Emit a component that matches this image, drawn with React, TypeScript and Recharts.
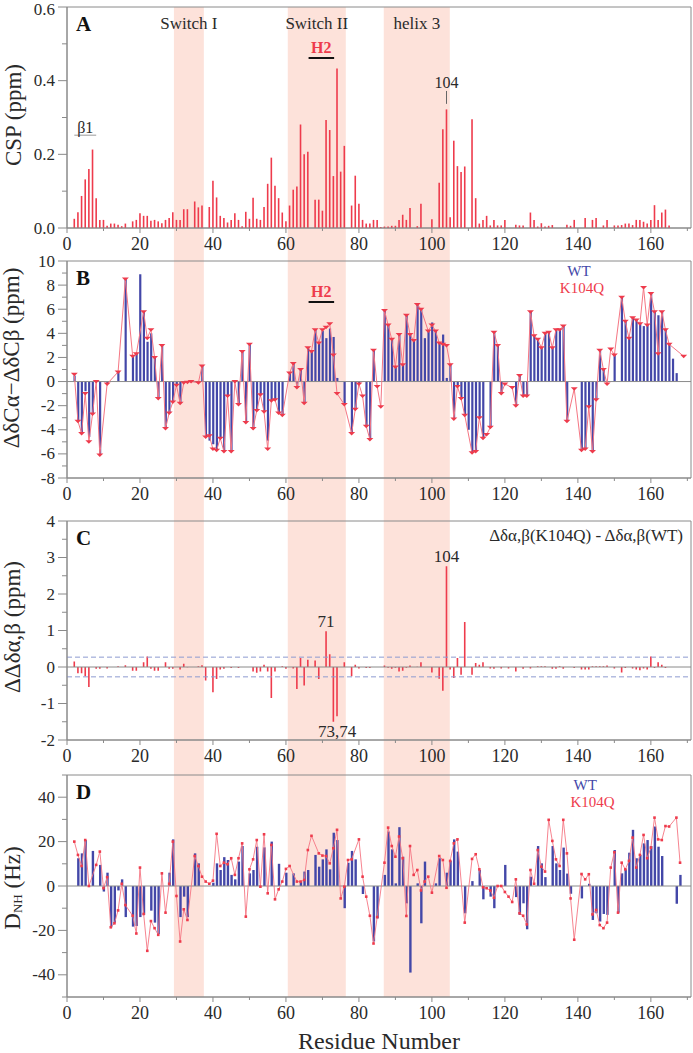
import React from "react";
import {
  ComposedChart,
  Bar,
  Line,
  XAxis,
  YAxis,
  ReferenceArea,
  ReferenceLine,
  ReferenceDot,
  Label,
} from "recharts";

// residue 1..170, null = no data
const cspValues = [
  null, 0.025, 0.043, 0.087, 0.132, 0.16, 0.213, 0.081, 0.022, 0.022,
  0.006, 0.012, 0.012, 0.009, 0.005, 0.012, null, 0.018, 0.022, 0.04,
  0.033, 0.033, 0.02, 0.022, 0.018, 0.013, 0.022, 0.027, 0.043, 0.022,
  0.022, 0.051, 0.051, null, 0.072, 0.056, 0.061, null, 0.057, 0.128,
  0.083, 0.033, 0.027, 0.015, 0.022, 0.04, 0.022, 0.005, 0.044, 0.025,
  0.082, 0.025, 0.022, 0.057, 0.12, 0.191, 0.115, 0.081, 0.042, 0.018,
  0.061, 0.104, 0.113, 0.281, 0.2, 0.207, null, 0.077, 0.077, 0.047,
  0.293, 0.266, 0.141, 0.433, 0.153, 0.223, null, 0.061, 0.142, 0.066,
  0.022, 0.012, 0.012, 0.022, 0.022, 0.003, 0.004, 0.004, 0.006, 0.006,
  0.022, 0.036, 0.022, 0.054, null, 0.005, 0.066, null, null, 0.024,
  null, 0.123, 0.268, 0.322, 0.029, 0.237, 0.168, 0.152, 0.167, null,
  0.295, 0.081, 0.012, 0.022, 0.033, 0.007, 0.022, 0.007, 0.007, 0.022,
  null, null, 0.009, 0.007, 0.007, null, 0.042, 0.022, 0.004, 0.013,
  0.004, 0.006, 0.008, null, null, null, 0.009, 0.006, 0.022, null,
  null, 0.027, null, 0.022, 0.027, null, 0.007, 0.022, null, 0.007,
  0.007, 0.008, 0.012, 0.012, 0.008, 0.022, 0.022, 0.017, 0.012, 0.022,
  0.062, 0.022, 0.042, 0.05, 0.007, null, null, null, null, null,
];

const wtShift = [
  null, 0.5, -3.3, -4.3, -0.8, -4.6, -2.7, null, -6.1, null,
  -0.2, null, null, 0.8, null, 8.5, null, 2.1, 2.3, 8.9,
  5.8, 3.3, 4.0, 2.0, -1.4, 3.0, -3.9, -2.6, -1.7, -0.3,
  -1.8, -0.1, null, null, null, -0.1, 1.3, -4.6, -4.9, -5.2,
  -5.7, -4.7, -5.8, -1.2, -5.8, null, -1.9, 2.5, -3.4, 3.1,
  -3.9, -2.4, -1.1, -2.5, -4.9, -1.6, -1.5, -2.6, -2.8, null,
  0.7, 1.5, -0.5, 1.0, -1.8, 2.8, 2.5, 4.3, 3.2, 4.2,
  3.6, 4.4, 3.7, 0.3, null, -1.9, null, -4.3, -2.3, -0.2,
  null, -3.7, -4.8, 2.6, null, null, 5.9, 4.7, 3.5, 1.2,
  3.9, 1.4, 5.5, 3.9, 3.4, 6.4, 6.0, 3.6, 4.2, 4.9,
  4.2, 3.2, 3.9, 0.3, 1.4, -3.1, -0.4, -1.4, -2.8, -4.0,
  -5.9, -5.8, -3.0, -4.7, null, -3.8, 4.1, 3.0, -1.0, null,
  null, null, -2.0, 0.5, -1.2, -1.2, 5.8, 3.8, 3.5, 2.8,
  4.0, 4.1, 2.8, 4.3, 4.3, 4.6, -3.3, null, null, null,
  -5.7, -5.6, -2.1, -5.8, -1.5, 2.6, 1.0, null, null, 2.2,
  null, 7.0, 5.0, 3.6, 5.3, 5.1, 4.8, 4.6, 4.7, 7.3,
  5.8, 5.5, 5.8, 4.3, 3.1, 1.9, 0.7, null, null, null,
];

const mutShift = [
  null, 0.6, -3.3, -4.3, -1.0, -5.0, -2.7, 0.0, -6.1, null,
  -0.2, null, null, 0.8, null, 8.5, null, 2.1, 2.3, null,
  5.8, 3.6, 4.3, 2.0, -1.4, 3.0, -3.9, -2.6, -1.7, -0.3,
  -1.8, -0.1, -0.05, 0.0, null, -0.1, 1.3, -4.6, -4.5, -5.6,
  -5.7, -4.7, -5.8, -1.2, -5.8, 0.0, -1.9, 2.5, -3.4, 3.1,
  -3.9, -2.4, -1.1, -2.5, -5.6, -1.6, -1.5, -2.6, -2.8, null,
  0.7, 1.5, -0.5, 1.0, -1.8, 2.8, 2.5, 4.3, 3.2, 4.3,
  4.5, 4.8, 2.2, -1.0, null, -1.9, null, -4.3, -2.3, -0.2,
  -1.2, -3.7, -4.8, 2.6, -0.4, -2.1, 5.9, 4.7, 3.5, 1.2,
  3.9, 1.4, 5.5, 3.9, 3.4, 6.4, 6.0, null, 4.2, 4.7,
  4.2, 3.2, 3.1, 3.0, 1.4, -3.1, -0.4, -1.4, -2.8, null,
  -5.9, -5.8, -3.0, -4.7, -4.4, -3.8, 4.1, 3.0, -1.0, -0.2,
  null, -0.5, -2.0, 0.5, -1.2, -1.2, 5.8, 3.8, 3.5, 2.8,
  4.0, 4.1, 2.8, 4.3, 4.3, 4.6, -3.3, null, -0.6, null,
  -5.7, -5.6, -2.1, -5.8, -1.5, 2.6, 1.0, -0.2, 2.7, 2.2,
  null, 7.0, 5.0, 3.6, 5.3, 5.1, 4.8, 7.8, 4.7, 7.3,
  5.8, 2.3, 5.8, 4.3, 3.1, null, null, null, 2.1, null,
];

const diffShift = [
  null, 0.15, -0.17, -0.17, -0.25, -0.55, null, -0.05, -0.05, null,
  -0.04, null, null, 0.02, null, 0.05, null, -0.1, -0.1, null,
  0.13, 0.29, -0.05, -0.1, -0.1, null, 0.13, -0.05, -0.05, null,
  -0.07, 0.09, -0.01, null, null, 0.02, 0.05, -0.37, null, -0.69,
  -0.33, -0.07, -0.05, null, -0.03, null, -0.03, null, null, null,
  -0.12, -0.16, -0.12, 0.06, -0.12, -0.85, -0.12, null, 0.02, -0.05,
  null, -0.04, -0.6, 0.25, -0.51, 0.2, null, 0.18, -0.33, null,
  0.98, 0.35, -1.5, -1.35, null, 0.13, null, -0.25, 0.06, -0.04,
  null, -0.03, -0.03, null, null, null, 0.04, -0.02, -0.05, -0.02,
  -0.12, -0.1, -0.02, 0.04, null, 0.01, 0.13, null, null, -0.15,
  null, -0.32, -0.65, 2.76, -0.07, -0.3, 0.25, -0.21, 1.23, null,
  -0.21, 0.11, 0.06, 0.13, null, -0.04, -0.05, null, -0.04, null,
  -0.04, null, -0.12, null, -0.05, null, -0.04, null, 0.02, 0.02,
  0.02, null, -0.05, -0.05, 0.02, -0.05, null, null, -0.03, null,
  -0.07, -0.07, -0.07, 0.02, 0.02, 0.02, 0.02, 0.04, null, -0.04,
  null, -0.15, -0.03, null, -0.04, -0.07, -0.09, -0.04, -0.07, 0.29,
  -0.03, 0.13, 0.06, -0.03, null, null, null, null, null, null,
];

const wtRdc = [
  null, null, 12.5, 14.7, 20.7, null, 15.8, null, 9.5, -2.5,
  6, -18.6, -16.5, -2, 3, -14, null, -18.3, -18, -14,
  -13, null, -11.1, -16.5, -21.7, null, null, 6, 21, null,
  -14, -4.8, -14, null, 14.7, 10.2, null, null, null, 1.5,
  10.2, 7.2, 13, 11.7, 5, 3, 11, 18, null, 5.7,
  7.2, 17.7, null, 17.4, null, 20, null, 10, null, 6,
  null, 5.7, null, 2, 6.5, 7.2, null, 14, 8.7, 12,
  16.5, 7.5, 24, 20.7, null, -10, 10.5, 15.8, 12, null,
  -3.6, null, null, -25, -14.6, null, 5, 24.5, 16.5, 1.2,
  26.5, 13.2, -7.8, -39, null, 1.2, -16.8, 11, null, null,
  1.2, 12.5, null, 6, 11.4, 21, 15.5, null, -12.3, null,
  2.2, null, 7.2, -6, null, -4.8, -10, null, null, 9.5,
  null, null, -5, -13, -7.8, -19.5, 4.2, null, 18, 10.2,
  4, null, 18, 10.2, 7.2, 17.3, 5.6, -3.5, null, null,
  -5.6, null, 1, -15.3, -12.3, -16, -12.6, -13, null, 16.2,
  -12, 5.7, 7.5, 15, 25.3, 12.5, 14, 19.2, 20.7, 18,
  26.8, 17.7, 13.5, null, null, null, -8, 5, null, null,
];

const mutRdc = [
  null, 20, 14, 9, 20.7, 0, null, 9.5, 15.5, -1,
  4, -18.6, -16.8, -11, 1, -8.6, null, -13.4, -21.4, 8.3,
  -12.6, -29.2, -15.8, -19, -22, 5.7, -12, 1, 20, -4.5,
  -25, -10.5, -15.3, null, 13.5, 9, 4.2, 2, 1, 2.4,
  23.5, 9, 10.5, 9.8, 12.5, 5, 12.5, 19.2, -13.8, 7.5,
  12, 20.7, -0.3, 23.3, -3.3, 18.5, -6, -1.5, 2, 7.7,
  9, null, 2, 2, 2.7, 16.2, 22.6, null, 14.7, 13.7,
  13.5, 10.2, 17, 25.3, -5.6, -0.3, 11.7, 12, null, 21,
  4.2, -4.8, -13.4, -25.9, -14, null, 10.5, 26.3, 18, 13.2,
  22.3, 12.5, -13.5, 18, 5, 7.2, -2, 2, 4.2, -3,
  null, 13.5, 11.7, -0.8, 11.3, 19.2, 21, null, -16.5, null,
  12.2, 14.3, 7.5, -0.6, -1, -2, -5.3, 0, 0, -2.7,
  -4.8, -7.2, 3, -12.3, -13.4, -17.3, 7.2, 1, 16.2, 8.7,
  6.5, 29.8, 20.3, 12, 9, 29.8, 14.7, -5.6, -24.2, null,
  5.4, 3, 5.3, -12.8, -10.8, -17.6, -19, -16.5, 8.3, 15.2,
  -12, 10.5, 7.5, 11.3, 21.8, 8.3, 14, 23, 12.5, 17.3,
  30.8, 21, 20.7, 27, 26.8, null, 30.8, 10.5, null, null,
];

const bandNames = ["Switch I", "Switch II", "helix 3"];
const bandStart = [29.3, 60.5, 86.8];
const bandEnd = [37.5, 76.4, 104.9];

const xTicks = [0, 10, 20, 30, 40, 50, 60, 70, 80, 90, 100, 110, 120, 130, 140, 150, 160, 170];
const aTicks = [0, 0.1, 0.2, 0.3, 0.4, 0.5, 0.6];
const bTicks = [-8, -7, -6, -5, -4, -3, -2, -1, 0, 1, 2, 3, 4, 5, 6, 7, 8, 9, 10];
const cTicks = [-2, -1.5, -1, -0.5, 0, 0.5, 1, 1.5, 2, 2.5, 3, 3.5, 4];
const dTicks = [-50, -40, -30, -20, -10, 0, 10, 20, 30, 40, 50];

const residues = cspValues.map((_, i) => i + 1);
const rows = residues.map((r, i) => ({
  r,
  csp: cspValues[i],
  wt: wtShift[i],
  mut: mutShift[i],
  diff: diffShift[i],
  wtRdc: wtRdc[i],
  mutRdc: mutRdc[i],
}));

const W = 693;
const LEFT = 67;
const X_MAX = 171;
const FONT = '"Liberation Serif", "Times New Roman", serif';
const INK = "#2a2a2a";
const AXIS = "#8a8a8a";
const RED = "#ee3b4c";
const RED_LINE = "#f57683";
const BLUE = "#4347a8";
const BAND = "#fde2da";

const XTick = (props: any) => {
  const { x, y, payload } = props;
  const v = payload.value;
  const major = v % 20 === 0;
  return (
    <g>
      <line x1={x} x2={x} y1={y} y2={y + (major ? 5 : 3)} stroke={AXIS} />
      {major && v <= 160 && (
        <text x={x} y={y + 16} textAnchor="middle" dominantBaseline="central" fontSize={18} fontFamily={FONT} fill={INK}>
          {v}
        </text>
      )}
    </g>
  );
};

// minY keeps the top label inside the picture
const yTick = (isMajor: (v: number) => boolean, fmt: (v: number) => string, minY = 0) => (props: any) => {
  const { x, y, payload } = props;
  const v = payload.value;
  const major = isMajor(v);
  return (
    <g>
      <line x1={x - (major ? 9 : 5)} x2={x} y1={y} y2={y} stroke={AXIS} />
      {major && (
        <text x={x - 12} y={Math.max(y, minY)} textAnchor="end" dominantBaseline="central" fontSize={17} fontFamily={FONT} fill={INK}>
          {fmt(v)}
        </text>
      )}
    </g>
  );
};

const yLabel = (content: React.ReactNode, cx: number, cy: number) => () => (
  <text
    x={cx}
    y={cy}
    transform={`rotate(-90 ${cx} ${cy})`}
    textAnchor="middle"
    dominantBaseline="central"
    fontSize={23}
    fontFamily={FONT}
    fill={INK}
  >
    {content}
  </text>
);

const TriDot = (props: any) => {
  const { cx, cy, value, index } = props;
  if (value == null || cx == null || cy == null) return <g key={index} />;
  return <path key={index} d={`M${cx - 3.5},${cy - 1.5}h7l-3.5,3.5z`} fill={RED} />;
};

const SqDot = (props: any) => {
  const { cx, cy, value, index } = props;
  if (value == null || cx == null || cy == null) return <g key={index} />;
  return <rect key={index} x={cx - 1.3} y={cy - 1.3} width={2.6} height={2.6} fill={RED} />;
};

const txt = { fontFamily: FONT, fill: INK, fontSize: 17 };
const letter = { fontFamily: FONT, fill: "#111", fontSize: 21, fontWeight: "bold" as const };

const note = (key: string, x: number, y: number, value: string, position: any, style: any, offset = 0) => (
  <ReferenceDot key={key} x={x} y={y} r={0} fill="none" stroke="none" ifOverflow="visible">
    <Label value={value} position={position} offset={offset} {...style} />
  </ReferenceDot>
);

const xAxis = (height = 30, label?: any) => (
  <XAxis
    type="number"
    dataKey="r"
    domain={[0, X_MAX]}
    ticks={xTicks}
    interval={0}
    tick={XTick}
    tickLine={false}
    tickSize={0}
    tickMargin={0}
    stroke={AXIS}
    height={height}
    allowDataOverflow
    label={label}
  />
);

const pos = (top: number): React.CSSProperties => ({ position: "absolute", left: 0, top });
const M = { top: 12, right: 2, bottom: 0, left: 0 };

export default function App() {
  return (
    <div style={{ position: "absolute", left: 0, top: 0, width: W, height: 1053, overflow: "hidden", background: "#fff" }}>
      {/* shaded regions running through all four panels */}
      <div style={pos(7)}>
        <ComposedChart width={W} height={990} data={rows} margin={{ top: 0, right: 2, bottom: 0, left: LEFT }}>
          <XAxis type="number" dataKey="r" domain={[0, X_MAX]} allowDataOverflow hide />
          <YAxis type="number" domain={[0, 1]} allowDataOverflow hide />
          {bandNames.map((name, i) => (
            <ReferenceArea
              key={name}
              x1={bandStart[i]}
              x2={bandEnd[i]}
              y1={0}
              y2={1}
              fill={BAND}
              fillOpacity={1}
              stroke="none"
              ifOverflow="visible"
              label={{ value: name, position: "insideTop", offset: 10, ...txt }}
            />
          ))}
        </ComposedChart>
      </div>

      {/* A */}
      <div style={pos(-5)}>
        <ComposedChart width={W} height={263} data={rows} margin={M}>
          {xAxis()}
          <YAxis
            domain={[0, 0.6]}
            ticks={aTicks}
            interval={0}
            width={LEFT}
            stroke={AXIS}
            tickLine={false}
            tickSize={0}
            tickMargin={0}
            tick={yTick((v) => Math.round(v * 10) % 2 === 0, (v) => v.toFixed(1), 14)}
            label={yLabel("CSP (ppm)", 13, 120)}
          />
          <ReferenceArea x1={0} x2={X_MAX} y1={0} y2={0.6} fill="none" stroke={AXIS} ifOverflow="visible">
            <Label value="A" position="insideTopLeft" offset={9} {...letter} />
          </ReferenceArea>
          <Bar dataKey="csp" fill={RED} barSize={1.6} isAnimationActive={false} />
          <ReferenceLine segment={[{ x: 66.2, y: 0.4615 }, { x: 73.2, y: 0.4615 }]} stroke="#111" strokeWidth={2}>
            <Label value="H2" position="top" offset={5} fontFamily={FONT} fill={RED} fontSize={16} fontWeight="bold" />
          </ReferenceLine>
          <ReferenceLine segment={[{ x: 2, y: 0.252 }, { x: 8, y: 0.252 }]} stroke="#999" strokeWidth={1}>
            <Label value="β1" position="top" offset={2} {...txt} fontSize={16} />
          </ReferenceLine>
          <ReferenceLine segment={[{ x: 104, y: 0.372 }, { x: 104, y: 0.337 }]} stroke="#666" strokeWidth={1}>
            <Label value="104" position="top" offset={3} {...txt} fontSize={16} />
          </ReferenceLine>
        </ComposedChart>
      </div>

      {/* B */}
      <div style={pos(249)}>
        <ComposedChart width={W} height={259} data={rows} margin={M}>
          {xAxis()}
          <YAxis
            domain={[-8, 10]}
            ticks={bTicks}
            interval={0}
            width={LEFT}
            stroke={AXIS}
            tickLine={false}
            tickSize={0}
            tickMargin={0}
            tick={yTick((v) => v % 2 === 0, (v) => String(v))}
            label={yLabel("ΔδCα−ΔδCβ (ppm)", 11, 109)}
          />
          <ReferenceArea x1={0} x2={X_MAX} y1={-8} y2={10} fill="none" stroke={AXIS} ifOverflow="visible">
            <Label value="B" position="insideTopLeft" offset={9} {...letter} />
          </ReferenceArea>
          <ReferenceLine y={0} stroke={AXIS} />
          <Bar dataKey="wt" fill={BLUE} barSize={2.2} isAnimationActive={false} />
          <Line
            dataKey="mut"
            stroke={RED_LINE}
            strokeWidth={1}
            dot={TriDot}
            activeDot={false}
            connectNulls
            isAnimationActive={false}
          />
          <ReferenceLine segment={[{ x: 66.2, y: 6.6 }, { x: 73.2, y: 6.6 }]} stroke="#111" strokeWidth={2}>
            <Label value="H2" position="top" offset={5} fontFamily={FONT} fill={RED} fontSize={16} fontWeight="bold" />
          </ReferenceLine>
          {note("wt", 140.3, 9.17, "WT", "center", { fontFamily: FONT, fill: BLUE, fontSize: 15 })}
          {note("mut", 141.1, 7.75, "K104Q", "center", { fontFamily: FONT, fill: RED, fontSize: 15 })}
        </ComposedChart>
      </div>

      {/* C */}
      <div style={pos(509)}>
        <ComposedChart width={W} height={261} data={rows} margin={M}>
          {xAxis()}
          <YAxis
            domain={[-2, 4]}
            ticks={cTicks}
            interval={0}
            width={LEFT}
            stroke={AXIS}
            tickLine={false}
            tickSize={0}
            tickMargin={0}
            tick={yTick((v) => Number.isInteger(v), (v) => String(v))}
            label={yLabel("ΔΔδα,β (ppm)", 12, 118)}
          />
          <ReferenceArea x1={0} x2={X_MAX} y1={-2} y2={4} fill="none" stroke={AXIS} ifOverflow="visible">
            <Label value="C" position="insideTopLeft" offset={9} {...letter} />
            <Label value="Δδα,β(K104Q) - Δδα,β(WT)" position="insideTopRight" offset={8} {...txt} />
          </ReferenceArea>
          <ReferenceLine y={0.27} stroke="#8d9ad0" strokeDasharray="5 3" />
          <ReferenceLine y={-0.27} stroke="#8d9ad0" strokeDasharray="5 3" />
          <ReferenceLine y={0} stroke={AXIS} />
          <Bar dataKey="diff" fill={RED} barSize={1.6} isAnimationActive={false} />
          {note("n104", 104, 2.76, "104", "top", txt, 4)}
          {note("n71", 71, 0.98, "71", "top", txt, 4)}
          {note("n7374", 74, -1.5, "73,74", "bottom", txt, 3)}
        </ComposedChart>
      </div>

      {/* D */}
      <div style={pos(763)}>
        <ComposedChart width={W} height={290} data={rows} margin={M}>
          {xAxis(56, (p: any) => (
            <text
              x={p.viewBox.x + p.viewBox.width / 2}
              y={p.viewBox.y + 44}
              textAnchor="middle"
              dominantBaseline="central"
              fontSize={24}
              fontFamily={FONT}
              fill={INK}
            >
              Residue Number
            </text>
          ))}
          <YAxis
            domain={[-50, 50]}
            ticks={dTicks}
            interval={0}
            width={LEFT}
            stroke={AXIS}
            tickLine={false}
            tickSize={0}
            tickMargin={0}
            tick={yTick((v) => v % 20 === 0 && Math.abs(v) < 50, (v) => String(v))}
            label={yLabel(
              <>
                <tspan>D</tspan>
                <tspan fontSize={13} dy={5}>NH</tspan>
                <tspan dy={-5}> (Hz)</tspan>
              </>,
              12,
              125
            )}
          />
          <ReferenceArea x1={0} x2={X_MAX} y1={-50} y2={50} fill="none" stroke={AXIS} ifOverflow="visible">
            <Label value="D" position="insideTopLeft" offset={9} {...letter} />
          </ReferenceArea>
          <ReferenceLine y={0} stroke={AXIS} />
          <Bar dataKey="wtRdc" fill={BLUE} barSize={2.4} isAnimationActive={false} />
          <Line
            dataKey="mutRdc"
            stroke={RED_LINE}
            strokeWidth={0.9}
            dot={SqDot}
            activeDot={false}
            connectNulls
            isAnimationActive={false}
          />
          {note("wt2", 142, 45.5, "WT", "center", { fontFamily: FONT, fill: BLUE, fontSize: 15 })}
          {note("mut2", 144, 37.8, "K104Q", "center", { fontFamily: FONT, fill: RED, fontSize: 15 })}
        </ComposedChart>
      </div>
    </div>
  );
}
